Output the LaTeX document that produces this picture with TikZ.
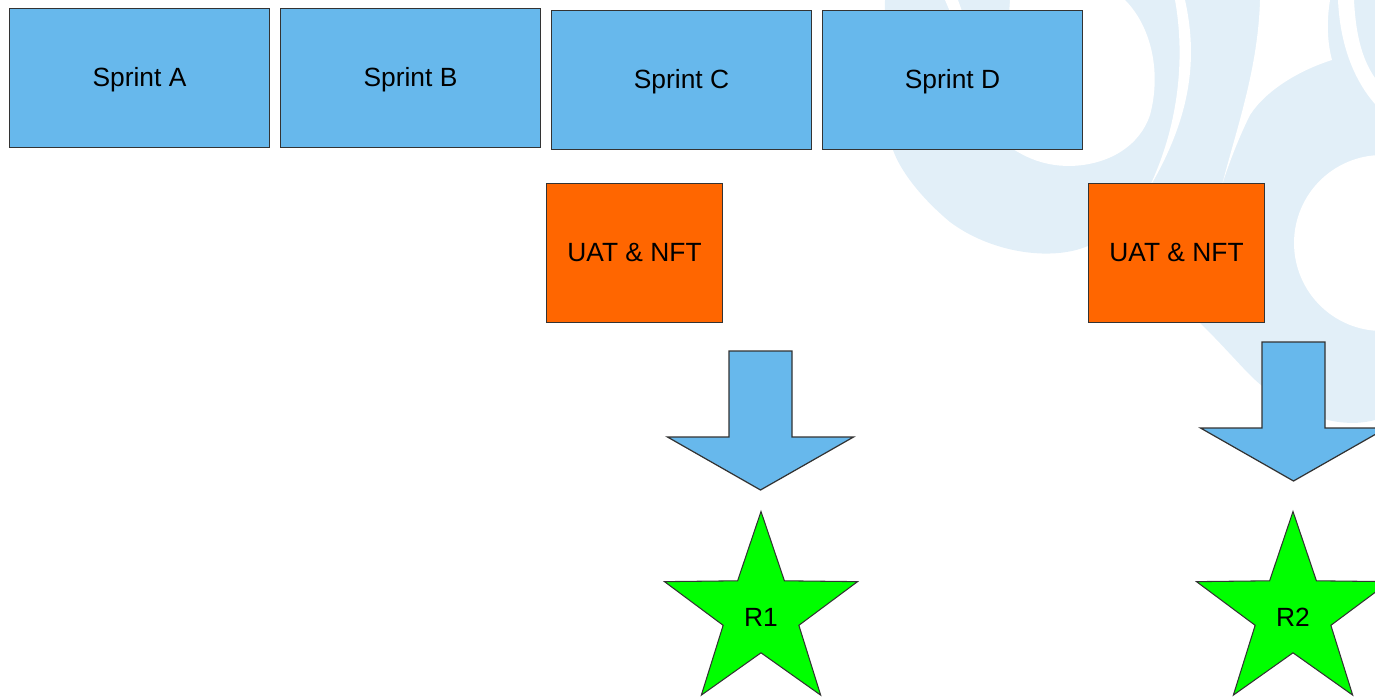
\documentclass[tikz,border=0pt]{standalone}
\usepackage{fontspec}
\setmainfont{Liberation Sans}
\usepackage{tikz}
\usetikzlibrary{shapes.geometric}
\definecolor{sprintblue}{HTML}{67B8EC}
\definecolor{uatorange}{HTML}{FF6600}
\definecolor{relgreen}{HTML}{00FF00}
\definecolor{wmblue}{HTML}{E2EFF8}
\definecolor{edgegray}{HTML}{333333}

\tikzset{
  pics/downarrow/.style={code={
    \draw[bigarrow] (-31.5,0) -- (31.5,0) -- (31.5,86) -- (93,86) -- (0,139) -- (-93,86) -- (-31.5,86) -- cycle;
  }}
}

\begin{document}
\begin{tikzpicture}[x=0.02cm, y=-0.02cm,
  boxfont/.style={font=\fontsize{15}{18}\selectfont, text height=0.95em, text depth=0pt},
  sprint/.style={draw=edgegray, line width=0.7pt, fill=sprintblue, minimum width=5.2cm, minimum height=2.78cm, boxfont},
  uat/.style={draw=edgegray, line width=0.7pt, fill=uatorange, minimum width=3.52cm, minimum height=2.78cm, boxfont},
  release/.style={star, star points=5, star point ratio=2.55, draw=edgegray, line width=0.6pt, fill=relgreen, minimum size=4.06cm, inner sep=0pt, label={[boxfont, yshift=-0.1cm]center:#1}},
  bigarrow/.style={draw=edgegray, line width=0.7pt, fill=sprintblue}]
\useasboundingbox (0,0) rectangle (1375,696);
\clip (0,0) rectangle (1375,696);

\fill[wmblue] (885,0) -- (1375,0) -- (1375,420) .. controls (1330,432) and (1280,405) .. (1250,375) .. controls (1225,350) and (1150,260) .. (1088,246) .. controls (1050,262) and (990,252) .. (950,222) .. controls (920,197) and (900,170) .. (893,150) .. controls (888,100) and (884,40) .. (885,0) -- cycle;
\fill[white] (945,0) -- (958,0) -- (963,14) -- (951,14) -- cycle;
\fill[white] (1010,0) -- (1125,0) .. controls (1150,25) and (1162,70) .. (1150,115) .. controls (1140,145) and (1110,165) .. (1070,166) .. controls (1040,166) and (1020,155) .. (1000,140) -- cycle;
\fill[white] (1175,0) -- (1185,0) .. controls (1196,50) and (1196,110) .. (1148,190) .. controls (1182,120) and (1184,50) .. (1175,0) -- cycle;
\fill[white] (1260,0) -- (1330,0) .. controls (1326,25) and (1328,45) .. (1332,60) .. controls (1300,70) and (1266,90) .. (1250,115) .. controls (1240,135) and (1230,160) .. (1222,185) .. controls (1236,130) and (1258,70) .. (1260,0) -- cycle;
\fill[white] (1338,0) -- (1354,0) .. controls (1356,40) and (1364,62) .. (1375,78) -- (1375,104) .. controls (1354,80) and (1340,45) .. (1338,0) -- cycle;
\fill[white] (1382,243) circle[radius=1.76cm];

\node[sprint] (sa) at (139.5,78) {Sprint A};
\node[sprint] (sb) at (410.5,78) {Sprint B};
\node[sprint] (sc) at (681.5,80) {Sprint C};
\node[sprint] (sd) at (952.5,80) {Sprint D};

\node[uat] (uat1) at (634.5,253) {UAT \& NFT};
\node[uat] (uat2) at (1176.5,253) {UAT \& NFT};

\pic at (760.5,351) {downarrow};
\pic at (1293.5,342) {downarrow};

\node[release=R1] (r1) at (761,613) {};
\node[release=R2] (r2) at (1293,613) {};
\end{tikzpicture}
\end{document}
